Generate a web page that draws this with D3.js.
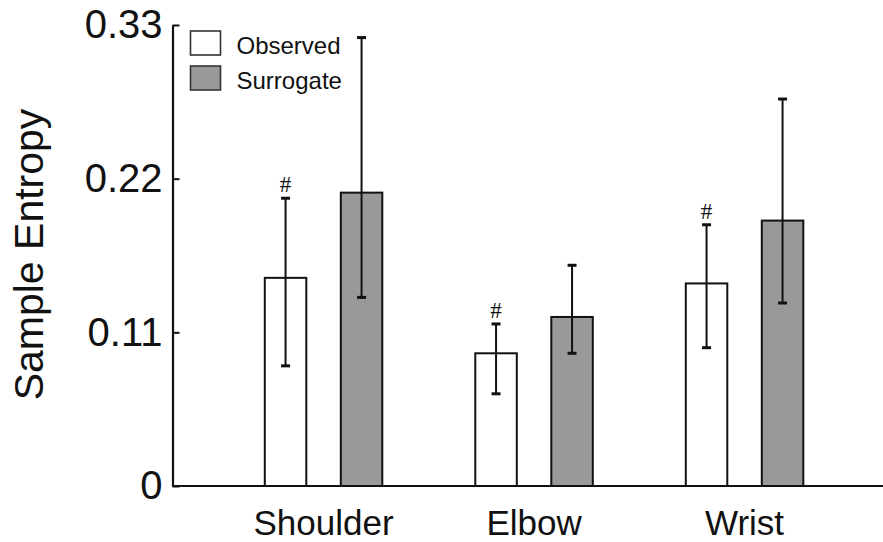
<!DOCTYPE html>
<html>
<head>
<meta charset="utf-8">
<script src="https://cdn.jsdelivr.net/npm/d3@7"></script>
<style>
  html, body { margin: 0; padding: 0; background: #fff; }
  svg { display: block; font-family: "Liberation Sans", Arial, Helvetica, sans-serif; }
</style>
</head>
<body>
<svg id="chart" width="883" height="542"></svg>
<script>
// Joint categories and the two series
const joints = ["Shoulder", "Elbow", "Wrist"];
const seriesNames = ["Observed", "Surrogate"];

// Mean sample entropy per joint
const observedMean = [0.149, 0.095, 0.145];
const surrogateMean = [0.210, 0.121, 0.190];

// Error bar extents (upper and lower ends)
const observedUpper = [0.206, 0.116, 0.187];
const observedLower = [0.086, 0.066, 0.099];
const surrogateUpper = [0.321, 0.158, 0.277];
const surrogateLower = [0.135, 0.095, 0.131];

// Significance markers above the observed bars
const observedMarks = ["#", "#", "#"];

// Axis tick values
const yTicks = [0, 0.11, 0.22, 0.33];
const yTickLabels = ["0", "0.11", "0.22", "0.33"];

const fills = { Observed: "#ffffff", Surrogate: "#999999" };
const ink = "#111111";

const svg = d3.select("#chart");

const y = d3.scaleLinear().domain([0, 0.33]).range([486, 25]);
const x0 = d3.scaleBand().domain(joints).range([218.3, 849.8]).padding(0);
const x1 = d3.scaleBand().domain(seriesNames)
  .range([x0.bandwidth() / 2 - 58.75, x0.bandwidth() / 2 + 58.75])
  .paddingInner(0.454).paddingOuter(0);

const rows = [];
joints.forEach((j, i) => {
  rows.push({ joint: j, series: "Observed", mean: observedMean[i], hi: observedUpper[i], lo: observedLower[i], mark: observedMarks[i] });
  rows.push({ joint: j, series: "Surrogate", mean: surrogateMean[i], hi: surrogateUpper[i], lo: surrogateLower[i], mark: "" });
});

const cx = d => x0(d.joint) + x1(d.series) + x1.bandwidth() / 2;

// Bars
svg.append("g").selectAll("rect").data(rows).join("rect")
  .attr("x", d => x0(d.joint) + x1(d.series))
  .attr("y", d => y(d.mean))
  .attr("width", x1.bandwidth())
  .attr("height", d => y(0) - y(d.mean))
  .attr("fill", d => fills[d.series])
  .attr("stroke", ink)
  .attr("stroke-width", 2);

// Error bars
const eb = svg.append("g").attr("stroke", ink).attr("stroke-width", 2);
eb.selectAll("line.stem").data(rows).join("line").attr("class", "stem")
  .attr("x1", cx).attr("x2", cx)
  .attr("y1", d => y(d.hi)).attr("y2", d => y(d.lo));
eb.selectAll("line.caphi").data(rows).join("line").attr("class", "caphi")
  .attr("x1", d => cx(d) - 4.5).attr("x2", d => cx(d) + 4.5)
  .attr("y1", d => y(d.hi)).attr("y2", d => y(d.hi))
  .attr("stroke-width", 3);
eb.selectAll("line.caplo").data(rows).join("line").attr("class", "caplo")
  .attr("x1", d => cx(d) - 4.5).attr("x2", d => cx(d) + 4.5)
  .attr("y1", d => y(d.lo)).attr("y2", d => y(d.lo))
  .attr("stroke-width", 3);

// Significance markers
svg.append("g").selectAll("text").data(rows.filter(d => d.mark)).join("text")
  .attr("x", cx)
  .attr("y", d => y(d.hi) - 6)
  .attr("text-anchor", "middle")
  .attr("font-size", 23)
  .attr("font-family", "'Liberation Serif', 'Times New Roman', serif")
  .attr("fill", ink)
  .text(d => d.mark);

// X axis baseline
svg.append("line")
  .attr("x1", 172.5).attr("x2", 883)
  .attr("y1", y(0)).attr("y2", y(0))
  .attr("stroke", ink).attr("stroke-width", 2.2);

// Y axis with inward ticks
const yAxis = d3.axisLeft(y)
  .tickValues(yTicks)
  .tickFormat((d, i) => yTickLabels[i])
  .tickSizeInner(-7)
  .tickSizeOuter(0)
  .tickPadding(10);
const gy = svg.append("g").attr("transform", "translate(172.5,0)").call(yAxis);
gy.select(".domain").attr("stroke", ink).attr("stroke-width", 2.2);
gy.selectAll(".tick line").attr("stroke", ink).attr("stroke-width", 2);
gy.selectAll(".tick text")
  .attr("font-size", 40)
  .attr("fill", ink)
  .attr("font-family", "'Liberation Sans', Arial, sans-serif");

// Category labels
svg.append("g").selectAll("text").data(joints).join("text")
  .attr("x", d => x0(d) + x0.bandwidth() / 2)
  .attr("y", 535)
  .attr("text-anchor", "middle")
  .attr("font-size", 35)
  .attr("fill", ink)
  .text(d => d);

// Y axis title
svg.append("text")
  .attr("transform", "translate(43,254.5) rotate(-90)")
  .attr("text-anchor", "middle")
  .attr("font-size", 41)
  .attr("fill", ink)
  .text("Sample Entropy");

// Legend
const legend = svg.append("g").selectAll("g").data(seriesNames).join("g")
  .attr("transform", (d, i) => `translate(190.5,${31 + i * 35})`);
legend.append("rect")
  .attr("width", 30).attr("height", 24)
  .attr("fill", d => fills[d])
  .attr("stroke", "#333")
  .attr("stroke-width", 1.6);
legend.append("text")
  .attr("x", 46).attr("y", 23)
  .attr("font-size", 24)
  .attr("fill", ink)
  .text(d => d);
</script>
</body>
</html>
